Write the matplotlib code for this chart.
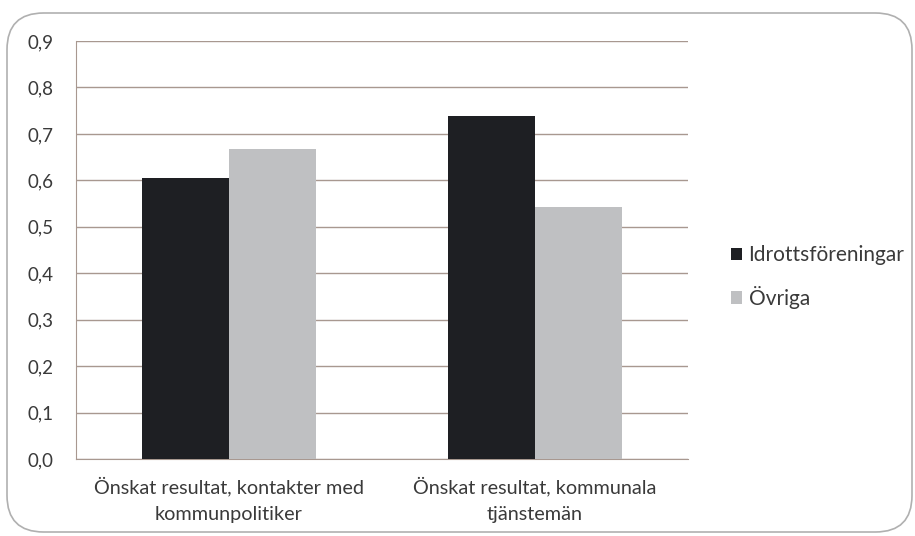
import matplotlib.pyplot as plt
from matplotlib.patches import FancyBboxPatch
from matplotlib.ticker import FuncFormatter
import numpy as np

categories = ['Önskat resultat, kontakter med\nkommunpolitiker',
              'Önskat resultat, kommunala\ntjänstemän']
series_names = ['Idrottsföreningar', 'Övriga']
idrott = [0.606, 0.739]
ovriga = [0.668, 0.543]
yticks = [0.0, 0.1, 0.2, 0.3, 0.4, 0.5, 0.6, 0.7, 0.8, 0.9]

plt.rcParams['font.family'] = ['Lato', 'DejaVu Sans']
textcolor = '#3a3a3a'
gridcolor = '#a89890'

fig = plt.figure(figsize=(9.15, 5.36), dpi=100, facecolor='white')
# rounded outer frame like the Excel chart area
frame = FancyBboxPatch((7 / 915, 4 / 536), 905 / 915, 519 / 536,
                       boxstyle='round,pad=0,rounding_size=0.04',
                       transform=fig.transFigure, facecolor='white',
                       edgecolor='#b0b0b0', linewidth=1.2,
                       mutation_aspect=915 / 536, zorder=-10)
fig.patches.append(frame)

ax = fig.add_axes([76 / 915, 1 - 459 / 536, 612 / 915, 418 / 536])
ax.set_facecolor('none')
ax.set_zorder(2)

x = np.arange(len(categories))
w = 0.284
ax.bar(x - w / 2, idrott, width=w, color='#1e1f23', label=series_names[0], zorder=3)
ax.bar(x + w / 2, ovriga, width=w, color='#bfc0c2', label=series_names[1], zorder=3)

ax.set_xlim(-0.5, 1.5)
ax.set_ylim(0, 0.9)
ax.set_yticks(yticks)
ax.yaxis.set_major_formatter(FuncFormatter(lambda v, p: ('%.1f' % v).replace('.', ',')))
ax.set_xticks(x)
ax.set_xticklabels(categories, fontsize=14.3, linespacing=1.65)
ax.grid(axis='y', color=gridcolor, linewidth=1.0, zorder=0)
for s in ['top', 'right']:
    ax.spines[s].set_visible(False)
ax.spines['left'].set_color(gridcolor)
ax.spines['bottom'].set_color(gridcolor)
ax.tick_params(axis='both', length=0, colors=textcolor)
ax.tick_params(axis='y', pad=16, labelsize=13.5)
ax.tick_params(axis='x', pad=13)

ax.legend(loc='center left', bbox_to_anchor=(1.07, 0.435), frameon=False,
          fontsize=15, handlelength=0.55, handleheight=0.55, handletextpad=0.3,
          labelspacing=1.0, labelcolor=textcolor, borderaxespad=0, borderpad=0)

fig.savefig('out.png', dpi=100)
